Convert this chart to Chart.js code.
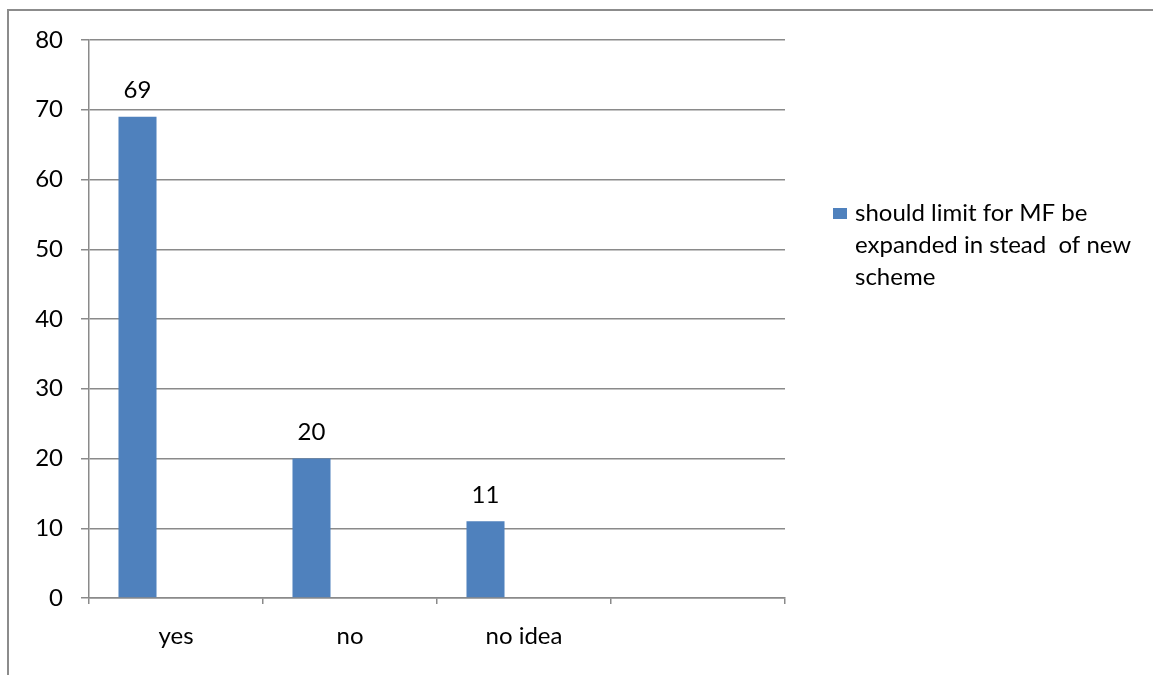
<!DOCTYPE html>
<html>
<head>
<meta charset="utf-8">
<script src="https://cdn.jsdelivr.net/npm/chart.js@4/dist/chart.umd.min.js"></script>
<style>
  html, body { margin: 0; padding: 0; background: #fff; }
  #wrap { position: relative; width: 1153px; height: 675px; overflow: hidden; }
  #frame { position: absolute; left: 7px; top: 9px; width: 1200px; height: 720px; border-left: 2px solid #8c8c8c; border-top: 2px solid #8c8c8c; }
  #chart { position: absolute; left: 0; top: 0; }
</style>
</head>
<body>
<div id="wrap">
  <div id="frame"></div>
  <canvas id="chart" width="1153" height="675"></canvas>
</div>
<script>
const categories = ['yes', 'no', 'no idea', ''];
const answers = [69, 20, 11, null];
const emptySeries = [null, null, null, null];
const seriesLabel = ['should limit for MF be', 'expanded in stead  of new', 'scheme'];
const yTicks = [0, 10, 20, 30, 40, 50, 60, 70, 80];

const FONT = 'Lato, "Open Sans", sans-serif';
const GRID = '#8a8a8a';
const BLUE = '#4f81bd';

const valueLabels = {
    id: 'valueLabels',
    afterDatasetsDraw(chart) {
        const ctx = chart.ctx;
        const meta = chart.getDatasetMeta(0);
        ctx.save();
        ctx.font = `24px ${FONT}`;
        ctx.fillStyle = '#000';
        ctx.textAlign = 'center';
        ctx.textBaseline = 'bottom';
        meta.data.forEach((bar, i) => {
            if (answers[i] == null) return;
            ctx.fillText(String(answers[i]), bar.x, bar.y - 14);
        });
        ctx.restore();
    }
};

const sideLegend = {
    id: 'sideLegend',
    afterDraw(chart) {
        const ctx = chart.ctx;
        const left = chart.chartArea.right + 48;
        ctx.save();
        ctx.fillStyle = BLUE;
        ctx.fillRect(left, 208, 14, 11);
        ctx.font = `24px ${FONT}`;
        ctx.fillStyle = '#000';
        ctx.textAlign = 'left';
        ctx.textBaseline = 'alphabetic';
        seriesLabel.forEach((line, i) => {
            ctx.fillText(line, left + 22, 221 + i * 32);
        });
        ctx.restore();
    }
};

new Chart(document.getElementById('chart'), {
    type: 'bar',
    data: {
        labels: categories,
        datasets: [
            { label: seriesLabel.join(' '), data: answers, backgroundColor: BLUE, categoryPercentage: 0.885, barPercentage: 0.494 },
            { label: '', data: emptySeries, backgroundColor: 'transparent', categoryPercentage: 0.885, barPercentage: 0.494 }
        ]
    },
    options: {
        responsive: false,
        animation: false,
        layout: { padding: { left: 0, right: 368, top: 40, bottom: 0 } },
        plugins: {
            legend: { display: false },
            tooltip: { enabled: false }
        },
        scales: {
            x: {
                offset: true,
                grid: { offset: true, drawOnChartArea: false, drawTicks: true, tickLength: 6, color: GRID, lineWidth: 1.5 },
                border: { color: GRID, width: 1.5 },
                ticks: { color: '#000', font: { family: FONT, size: 24 }, padding: 18, maxRotation: 0 },
                afterFit(scale) { scale.height = 77; }
            },
            y: {
                min: 0,
                max: 80,
                afterBuildTicks(scale) { scale.ticks = yTicks.map(v => ({ value: v })); },
                grid: { color: GRID, lineWidth: 1.5, tickLength: 8 },
                border: { color: GRID, width: 1.5 },
                ticks: { color: '#000', font: { family: FONT, size: 24 }, padding: 18 },
                afterFit(scale) { scale.width = 89; }
            }
        }
    },
    plugins: [valueLabels, sideLegend]
});
</script>
</body>
</html>
